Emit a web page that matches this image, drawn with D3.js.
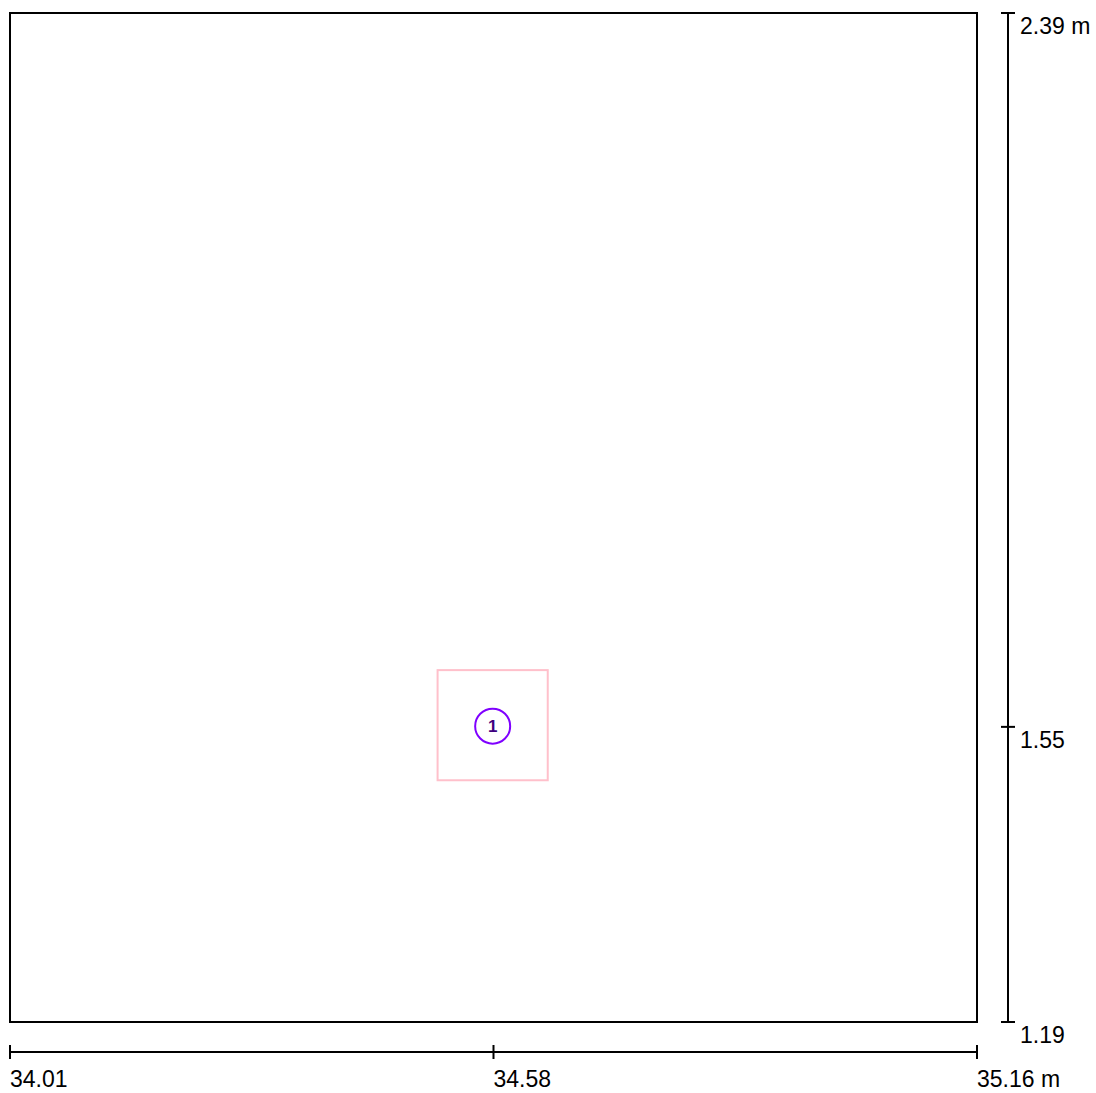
<!DOCTYPE html>
<html><head><meta charset="utf-8">
<script src="https://cdn.jsdelivr.net/npm/d3@7"></script>
<style>body{margin:0;background:#fff}svg{display:block}text{font-family:Arial,"Liberation Sans",sans-serif}</style>
</head><body>
<script>
const xDomain = [34.01, 35.16];
const yDomain = [1.19, 2.39];
const xTickValues = [34.01, 34.585, 35.16];
const xTickLabels = ["34.01", "34.58", "35.16 m"];
const yTickValues = [1.19, 1.541, 2.39];
const yTickLabels = ["1.19", "1.55", "2.39 m"];
const itemIds = ["1"];
const itemX = [34.584];
const itemY = [1.543];
const itemSize = [0.131];

const W = 1096, H = 1093;
const svg = d3.select("body").append("svg").attr("width", W).attr("height", H);
const x = d3.scaleLinear().domain(xDomain).range([10, 977]);
const y = d3.scaleLinear().domain(yDomain).range([1022, 13]);

svg.append("rect").attr("x", x(xDomain[0])).attr("y", y(yDomain[1]))
  .attr("width", x(xDomain[1]) - x(xDomain[0])).attr("height", y(yDomain[0]) - y(yDomain[1]))
  .attr("fill", "none").attr("stroke", "#000").attr("stroke-width", 2);

// bottom axis
const bx = svg.append("g");
const axY = 1052;
bx.append("line").attr("x1", x(xDomain[0])).attr("x2", x(xDomain[1])).attr("y1", axY).attr("y2", axY).attr("stroke", "#000").attr("stroke-width", 2);
xTickValues.forEach((v, i) => {
  bx.append("line").attr("x1", x(v)).attr("x2", x(v)).attr("y1", axY - 7).attr("y2", axY + 7).attr("stroke", "#000").attr("stroke-width", 2);
  bx.append("text").attr("x", x(v)).attr("y", axY + 35).attr("font-size", 23).attr("fill", "#000").text(xTickLabels[i]);
});

// right axis
const ry = svg.append("g");
const axX = 1008;
ry.append("line").attr("x1", axX).attr("x2", axX).attr("y1", y(yDomain[0])).attr("y2", y(yDomain[1])).attr("stroke", "#000").attr("stroke-width", 2);
yTickValues.forEach((v, i) => {
  ry.append("line").attr("x1", axX - 7).attr("x2", axX + 7).attr("y1", y(v)).attr("y2", y(v)).attr("stroke", "#000").attr("stroke-width", 2);
  ry.append("text").attr("x", axX + 12).attr("y", y(v) + 21).attr("font-size", 23).attr("fill", "#000").text(yTickLabels[i]);
});

// items
itemIds.forEach((id, i) => {
  const cx = x(itemX[i]), cy = y(itemY[i]);
  const hw = (x(itemX[i] + itemSize[i] / 2) - x(itemX[i] - itemSize[i] / 2)) / 2;
  const hh = (y(itemY[i] - itemSize[i] / 2) - y(itemY[i] + itemSize[i] / 2)) / 2;
  svg.append("rect").attr("x", cx - hw).attr("y", cy - hh).attr("width", 2 * hw).attr("height", 2 * hh)
    .attr("fill", "none").attr("stroke", "#FFC0CB").attr("stroke-width", 2);
  svg.append("circle").attr("cx", cx).attr("cy", cy + 1).attr("r", 17.5)
    .attr("fill", "none").attr("stroke", "#7F00FF").attr("stroke-width", 2);
  svg.append("text").attr("x", cx).attr("y", cy + 7).attr("text-anchor", "middle")
    .attr("font-size", 17).attr("font-weight", "bold").attr("fill", "#3F007F").text(id);
});
</script>
</body></html>
